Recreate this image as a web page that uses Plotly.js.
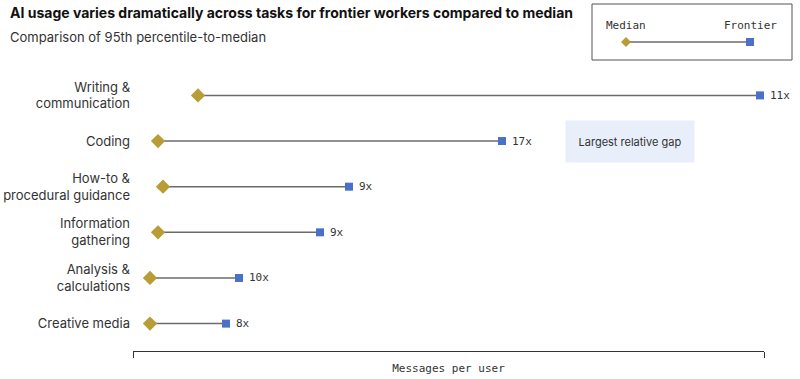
<!DOCTYPE html>
<html>
<head>
<meta charset="utf-8">
<script src="https://cdn.plot.ly/plotly-3.0.1.min.js"></script>
<style>html,body{margin:0;padding:0;background:#fff;}#chart{width:800px;height:379px;}</style>
</head>
<body>
<div id="chart"></div>
<script>
// Data (relative units of messages per user)
var categories = ["Writing &<br>communication", "Coding", "How-to &<br>procedural guidance", "Information<br>gathering", "Analysis &<br>calculations", "Creative media"];
var medianValues = [5.8, 1.8, 2.3, 1.8, 1.0, 1.0];
var frontierValues = [62.0, 36.2, 20.9, 18.0, 9.9, 8.6];
var ratioLabels = ["11x", "17x", "9x", "9x", "10x", "8x"];
var calloutText = "Largest relative gap";
var calloutCategory = "Coding";
var calloutX = 49.0;

var GOLD = "#b89d36", BLUE = "#4a70c8", LINE = "#6b6b6b";
var MONO = "DejaVu Sans Mono, monospace";
var SANS = "Inter, Noto Sans, sans-serif";

// connecting lines built from the data arrays
var lx = [], ly = [];
for (var i = 0; i < categories.length; i++) {
  lx.push(medianValues[i], frontierValues[i], null);
  ly.push(categories[i], categories[i], null);
}

var traces = [
  {type: "scatter", mode: "lines", x: lx, y: ly, line: {color: LINE, width: 1.5}, hoverinfo: "skip", showlegend: false, cliponaxis: false},
  {type: "scatter", mode: "markers", x: medianValues, y: categories, name: "Median",
   marker: {symbol: "diamond", size: 11, color: GOLD}, showlegend: false, cliponaxis: false},
  {type: "scatter", mode: "markers", x: frontierValues, y: categories, name: "Frontier",
   marker: {symbol: "square", size: 8, color: BLUE}, showlegend: false, cliponaxis: false}
];

// pixel -> paper helpers for decorations outside the plot
var L = 133, R = 36, T = 68, B = 28, W = 800, H = 379;
var pw = W - L - R, ph = H - T - B;
function px(x) { return (x - L) / pw; }
function py(y) { return (H - B - y) / ph; }

var annotations = [
  {xref: "paper", yref: "paper", x: px(8), y: py(13), xanchor: "left", yanchor: "middle", showarrow: false,
   text: "<b>AI usage varies dramatically across tasks for frontier workers compared to median</b>",
   font: {family: SANS, size: 14, color: "#111"}},
  {xref: "paper", yref: "paper", x: px(8), y: py(37), xanchor: "left", yanchor: "middle", showarrow: false,
   text: "Comparison of 95th percentile-to-median", font: {family: SANS, size: 13, color: "#333"}},
  {xref: "paper", yref: "paper", x: px(626), y: py(25), xanchor: "center", yanchor: "middle", showarrow: false,
   text: "Median", font: {family: MONO, size: 11, color: "#333"}},
  {xref: "paper", yref: "paper", x: px(750), y: py(25), xanchor: "center", yanchor: "middle", showarrow: false,
   text: "Frontier", font: {family: MONO, size: 11, color: "#333"}},
  {xref: "x", yref: "y", x: calloutX, y: calloutCategory, xanchor: "center", yanchor: "middle", showarrow: false,
   text: calloutText, font: {family: SANS, size: 11, color: "#333"},
   bgcolor: "#e9eefb", width: 128, height: 41, borderpad: 0}
];
for (var j = 0; j < categories.length; j++) {
  annotations.push({xref: "x", yref: "y", x: frontierValues[j], y: categories[j], xanchor: "left", yanchor: "middle",
    xshift: 8, showarrow: false, text: ratioLabels[j], font: {family: MONO, size: 11, color: "#333"}});
}

var layout = {
  width: W, height: H,
  margin: {l: L, r: R, t: T, b: B, pad: 0},
  paper_bgcolor: "#fff", plot_bgcolor: "#fff",
  font: {family: SANS, color: "#222"},
  xaxis: {
    range: [-0.7, 62.4], showgrid: false, zeroline: false,
    showline: true, linecolor: "#333", linewidth: 1,
    tickvals: [-0.7, 62.4], ticktext: ["", ""], ticks: "outside", ticklen: 6, tickcolor: "#333", tickwidth: 1,
    title: {text: "Messages per user", font: {family: MONO, size: 11, color: "#333"}, standoff: 4}
  },
  yaxis: {
    type: "category", categoryorder: "array", categoryarray: categories,
    range: [5.6, -0.6], showgrid: false, zeroline: false, showline: false, ticks: "",
    tickfont: {family: SANS, size: 13, color: "#333"}, ticklabelstandoff: 2
  },
  annotations: annotations,
  shapes: [
    {type: "rect", xref: "paper", yref: "paper", x0: px(592), x1: px(792), y0: py(60), y1: py(4),
     line: {color: "#555", width: 1}, fillcolor: "rgba(0,0,0,0)"},
    {type: "line", xref: "paper", yref: "paper", x0: px(626), x1: px(750), y0: py(42), y1: py(42),
     line: {color: LINE, width: 1.5}},
    {type: "path", xref: "paper", yref: "paper", xsizemode: "pixel", ysizemode: "pixel",
     xanchor: px(626), yanchor: py(42), path: "M -5 0 L 0 5 L 5 0 L 0 -5 Z", fillcolor: GOLD, line: {width: 0}},
    {type: "rect", xref: "paper", yref: "paper", xsizemode: "pixel", ysizemode: "pixel",
     xanchor: px(750), yanchor: py(42), x0: -4, x1: 4, y0: -4, y1: 4, fillcolor: BLUE, line: {width: 0}}
  ]
};

Plotly.newPlot("chart", traces, layout, {displayModeBar: false, staticPlot: true});
</script>
</body>
</html>
